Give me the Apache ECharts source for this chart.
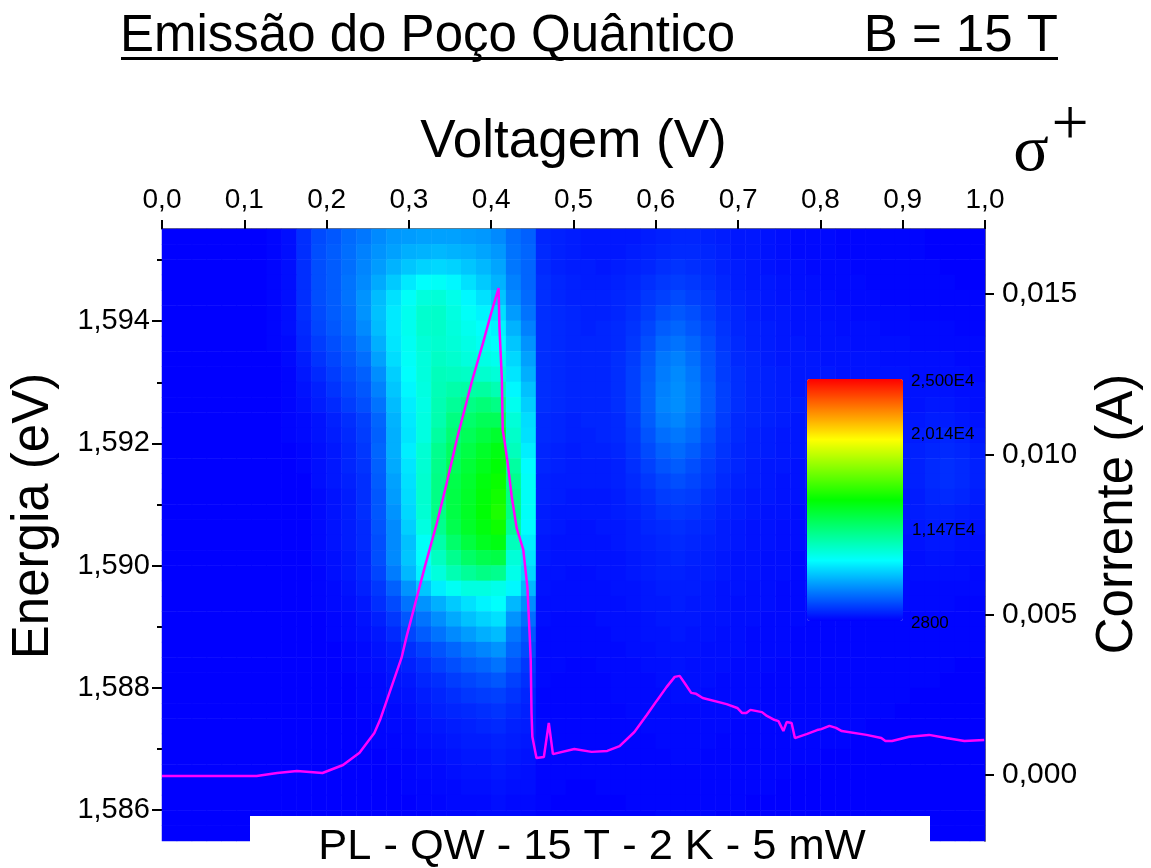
<!DOCTYPE html>
<html><head><meta charset="utf-8">
<style>html,body{margin:0;padding:0;background:#fff}#c{width:1151px;height:868px}</style>
<script src="https://cdn.jsdelivr.net/npm/echarts@6/dist/echarts.min.js"></script>
</head><body><div id="c"></div>
<script>
// Photoluminescence intensity, in hundreds of counts. Rows: high energy to low; columns: 0 V to 1 V.
const intensityRows = [
[28,28,28,28,28,28,28,29,31,38,44,47,51,54,58,61,62,63,63,63,62,61,58,52,49,36,35,34,33,33,33,33,34,35,36,36,35,34,33,33,32,31,30,30,30,29,29,29,29,29,29,28,28,28,28],
[28,28,28,28,28,28,28,29,31,38,45,48,52,56,60,63,66,67,68,67,66,64,61,53,50,37,35,34,33,33,33,34,35,36,37,37,36,35,33,33,32,31,30,30,30,29,29,29,29,29,29,28,28,28,28],
[28,28,28,28,28,28,28,29,31,38,45,48,52,57,62,67,71,74,75,74,71,68,64,54,50,37,35,34,34,33,34,35,36,38,39,38,37,35,34,33,32,31,31,30,30,30,29,29,29,29,29,29,28,28,28],
[28,28,28,28,28,28,28,29,31,38,45,48,53,58,65,72,79,84,85,82,77,72,67,56,50,38,36,35,34,34,35,36,38,40,41,40,38,36,34,33,33,32,31,31,30,30,30,29,29,29,29,29,29,28,28],
[28,28,28,28,28,28,28,29,31,38,45,48,53,60,69,77,85,91,92,88,82,77,71,58,51,38,36,35,35,35,36,37,40,42,44,42,40,37,35,34,33,32,32,31,31,30,30,30,29,29,29,29,29,29,29],
[28,28,28,28,28,28,28,29,31,38,44,48,52,60,70,79,87,94,95,90,85,81,77,62,53,38,37,36,35,35,36,38,41,45,47,45,41,38,36,34,33,33,32,32,31,31,30,30,30,30,29,29,29,29,29],
[28,28,28,28,28,28,28,29,31,37,43,47,51,58,69,79,87,94,95,91,87,84,81,67,56,38,37,36,35,36,37,39,43,48,50,47,43,39,36,35,34,33,32,32,32,31,31,31,30,30,30,30,30,29,29],
[28,28,28,28,28,28,28,29,30,36,41,45,49,55,66,78,86,92,94,92,89,86,84,71,60,38,37,36,36,36,37,40,45,51,53,50,45,40,37,35,34,33,33,32,32,32,31,31,31,31,30,30,30,30,30],
[28,28,28,28,28,28,28,28,30,34,39,43,47,52,63,76,85,91,96,94,91,89,87,75,63,38,37,36,36,36,38,41,47,54,56,52,46,41,37,36,34,33,33,33,32,32,32,32,31,31,31,31,31,30,30],
[28,28,28,28,28,28,28,28,29,33,37,41,45,49,59,73,84,91,98,97,96,94,92,78,66,38,37,36,36,36,38,42,48,55,58,54,47,41,38,36,35,34,33,33,33,32,32,32,32,32,31,31,31,31,30],
[28,28,28,28,28,28,28,28,29,32,35,39,43,47,56,71,82,90,99,102,103,104,100,82,70,38,37,36,36,36,38,42,49,56,59,55,48,42,38,36,35,34,33,33,33,33,32,32,32,32,32,32,32,31,31],
[28,28,28,28,28,28,28,28,29,31,34,37,41,45,53,69,80,89,100,106,110,113,110,87,73,38,37,36,36,36,38,42,49,57,59,55,48,42,38,36,35,34,34,33,33,33,33,33,33,32,32,33,33,32,31],
[28,28,28,28,28,28,28,28,29,30,32,35,38,42,50,67,79,90,101,111,116,120,120,92,76,37,36,35,36,36,37,41,48,55,57,53,47,41,37,36,35,34,33,33,33,33,33,33,33,33,33,34,34,33,32],
[28,28,28,28,28,28,28,28,29,30,32,34,37,41,49,66,78,90,104,114,120,125,129,95,77,37,36,35,35,36,37,40,46,52,54,51,45,40,37,35,34,33,33,33,33,33,33,33,33,33,34,35,36,35,33],
[28,28,28,28,28,28,28,28,28,29,31,33,36,40,50,66,80,93,108,118,124,130,135,98,80,36,35,34,35,35,36,39,44,49,51,48,43,39,36,35,34,33,33,33,32,32,32,33,33,34,35,36,37,36,34],
[28,28,28,28,28,28,28,28,28,29,31,33,36,39,49,65,78,93,109,120,127,133,138,104,83,36,35,34,34,34,35,38,42,46,48,45,41,38,36,34,33,33,32,32,32,32,32,33,33,34,35,37,38,37,35],
[28,28,28,28,28,28,28,28,28,28,31,33,35,38,48,63,77,94,110,123,129,136,141,108,85,35,34,34,34,34,35,37,40,43,45,43,40,37,35,34,33,32,32,32,32,32,32,32,33,34,35,37,38,37,35],
[28,28,28,28,28,28,28,28,28,28,30,32,34,38,47,62,76,94,110,124,130,137,143,110,85,35,34,33,33,33,34,36,38,41,42,41,38,36,34,33,33,32,32,31,31,31,31,32,32,33,34,36,37,36,34],
[28,28,28,28,28,28,28,28,28,28,30,32,34,38,47,60,75,93,110,124,131,138,145,110,85,34,33,33,33,33,34,35,37,39,40,39,37,35,34,33,32,32,31,31,31,31,31,31,32,33,34,35,35,34,33],
[28,28,28,28,28,28,28,28,28,28,30,32,34,37,46,58,73,90,108,122,130,136,142,106,83,34,33,32,32,33,33,34,36,37,38,37,36,34,33,32,32,31,31,31,31,31,31,31,31,32,33,34,34,33,32],
[28,28,28,28,28,28,28,28,28,28,30,32,34,37,45,58,70,85,102,116,125,132,135,98,80,33,32,32,32,32,33,34,35,36,37,36,35,34,33,32,32,31,31,30,30,30,30,30,31,31,32,33,33,32,31],
[28,28,28,28,28,28,28,28,28,28,30,31,33,36,45,58,71,84,97,108,117,122,124,92,78,33,32,32,32,32,32,33,34,35,36,35,34,33,32,32,31,31,30,30,30,30,30,30,30,31,31,32,32,31,31],
[28,28,28,28,28,28,28,28,28,28,29,31,33,36,43,55,68,81,91,100,106,110,108,88,75,32,32,31,31,32,32,33,34,35,35,34,34,33,32,32,31,31,30,30,30,30,30,30,30,30,31,31,31,31,30],
[28,28,28,28,28,28,28,28,28,28,29,30,32,35,40,49,60,71,80,86,90,90,88,82,68,32,31,31,31,31,32,32,33,34,34,34,33,32,32,31,31,30,30,30,30,29,29,30,30,30,30,30,30,30,30],
[28,28,28,28,28,28,28,28,28,28,29,30,31,33,38,44,53,60,66,72,77,81,84,68,59,31,31,31,31,31,31,32,33,33,34,33,33,32,31,31,31,30,30,30,29,29,29,29,29,30,30,30,30,29,29],
[28,28,28,28,28,28,28,28,28,28,28,29,30,32,35,40,47,53,59,65,70,74,77,60,52,31,30,30,30,31,31,31,32,33,33,33,32,32,31,31,30,30,30,29,29,29,29,29,29,29,29,29,29,29,29],
[28,28,28,28,28,28,28,28,28,28,28,29,30,31,33,37,43,48,53,58,62,66,69,54,47,30,30,30,30,30,31,31,32,32,33,32,32,31,31,30,30,30,29,29,29,29,29,29,29,29,29,29,29,29,29],
[28,28,28,28,28,28,28,28,28,28,28,28,29,30,32,34,38,42,46,50,54,57,60,50,44,30,30,30,30,30,30,31,31,32,32,32,31,31,31,30,30,30,29,29,29,29,29,29,29,29,29,29,29,29,29],
[28,28,28,28,28,28,28,28,28,28,28,28,29,30,31,33,35,38,42,45,48,50,53,46,40,30,30,29,29,30,30,30,31,31,32,31,31,31,30,30,30,29,29,29,29,29,29,29,29,29,29,29,29,28,28],
[28,28,28,28,28,28,28,28,28,28,28,28,28,29,30,32,33,36,38,41,43,45,47,42,38,30,29,29,29,29,30,30,30,31,31,31,31,30,30,30,29,29,29,29,29,29,29,29,29,29,29,29,28,28,28],
[28,28,28,28,28,28,28,28,28,28,28,28,28,29,30,31,32,34,36,38,40,41,42,39,36,29,29,29,29,29,30,30,30,30,31,31,30,30,30,30,29,29,29,29,29,29,29,29,29,29,28,28,28,28,28],
[28,28,28,28,28,28,28,28,28,28,28,28,28,29,29,30,31,33,35,36,37,38,39,37,35,29,29,29,29,29,29,30,30,30,30,30,30,30,30,29,29,29,29,29,29,29,29,29,29,28,28,28,28,28,28],
[28,28,28,28,28,28,28,28,28,28,28,28,28,28,29,30,30,32,33,34,35,36,37,35,34,29,29,29,29,29,29,29,30,30,30,30,30,30,29,29,29,29,29,29,29,29,29,28,28,28,28,28,28,28,28],
[28,28,28,28,28,28,28,28,28,28,28,28,28,28,29,29,30,31,32,33,34,34,35,34,33,29,29,29,29,29,29,29,29,30,30,30,30,29,29,29,29,29,29,29,29,29,28,28,28,28,28,28,28,28,28],
[28,28,28,28,28,28,28,28,28,28,28,28,28,28,28,29,29,30,31,32,33,33,34,33,32,29,29,29,29,29,29,29,29,29,30,30,29,29,29,29,29,29,29,29,28,28,28,28,28,28,28,28,28,28,28],
[28,28,28,28,28,28,28,28,28,28,28,28,28,28,28,28,29,30,30,31,32,32,33,32,31,29,29,29,29,29,29,29,29,29,29,29,29,29,29,29,29,29,28,28,28,28,28,28,28,28,28,28,28,28,28],
[28,28,28,28,28,28,28,28,28,28,28,28,28,28,28,28,29,29,30,30,31,31,32,31,31,29,29,28,28,29,29,29,29,29,29,29,29,29,29,29,29,28,28,28,28,28,28,28,28,28,28,28,28,28,28],
[28,28,28,28,28,28,28,28,28,28,28,28,28,28,28,28,28,29,29,30,30,30,31,30,30,29,28,28,28,28,28,29,29,29,29,29,29,29,29,28,28,28,28,28,28,28,28,28,28,28,28,28,28,28,28],
[28,28,28,28,28,28,28,28,28,28,28,28,28,28,28,28,28,28,29,29,29,30,30,30,29,28,28,28,28,28,28,28,28,29,29,29,29,28,28,28,28,28,28,28,28,28,28,28,28,28,28,28,28,28,28],
[28,28,28,28,28,28,28,28,28,28,28,28,28,28,28,28,28,28,28,28,29,29,29,29,29,28,28,28,28,28,28,28,28,28,28,28,28,28,28,28,28,28,28,28,28,28,28,28,28,28,28,28,28,28,28]
];
// Current trace
const voltage = [0,.115,.14,.164,.195,.22,.24,.258,.265,.291,.297,.319,.334,.346,.359,.377,.39,.4,.409,.41,.413,.414,.416,.42,.425,.431,.439,.444,.447,.448,.449,.45,.455,.464,.47,.475,.501,.522,.541,.556,.574,.589,.601,.613,.623,.629,.635,.643,.649,.657,.686,.699,.705,.71,.715,.729,.735,.744,.749,.755,.759,.765,.769,.784,.796,.801,.811,.819,.826,.856,.874,.879,.887,.908,.932,.953,.975,.999];
const current = [-.00003,-.00003,.00006,.00012,.00006,.00031,.00069,.00131,.00172,.00365,.0043,.00646,.00786,.00911,.01054,.01232,.01347,.01441,.01519,.01397,.01232,.01076,.01045,.00973,.00867,.0077,.00702,.00586,.00421,.00359,.00193,.00119,.00053,.00056,.00162,.00065,.00081,.00072,.00075,.0009,.00134,.00187,.00231,.00274,.00306,.00309,.00287,.00256,.00253,.0024,.00221,.00209,.00193,.00193,.00203,.00196,.00184,.00172,.00168,.00137,.00165,.00162,.00115,.00128,.0014,.00143,.00153,.00147,.00137,.00125,.00115,.00106,.00106,.00119,.00125,.00115,.00106,.00109];
const voltageTicks = [0,.1,.2,.3,.4,.5,.6,.7,.8,.9,1];
const voltageMinorTicks = [.05,.15,.25,.35,.45,.55,.65,.75,.85,.95];
const energyTicks = [1.586,1.588,1.59,1.592,1.594];
const energyMinorTicks = [1.587,1.589,1.591,1.593,1.595];
const currentTicks = [0,.005,.01,.015];
const currentMinorTicks = [.0025,.0075,.0125];
const scaleLabels = ['2,500E4','2,014E4','1,147E4','2800'];
const heatColors = ['#0000ff','#00ffff','#00ff00','#ffff00','#ff0000'];

const G = {left:161, top:229, width:825, height:612};
const FONT = '"Liberation Sans", Arial, sans-serif';
const comma = d => v => v.toFixed(d).replace('.', ',');
const cols = intensityRows[0].map((_, i) => i);
const rows = intensityRows.map((_, i) => i);
const cells = [];
intensityRows.forEach((r, y) => r.forEach((v, x) => cells.push([x, y, v * 100])));
const trace = voltage.map((v, i) => [v, current[i]]);
const tick = (len) => ({show:true, length:len, inside:false, lineStyle:{color:'#000', width:2}});
const hiddenLine = {show:false};

const chart = echarts.init(document.getElementById('c'), null, {renderer:'canvas'});
chart.setOption({
  animation:false,
  backgroundColor:'#fff',
  grid:{...G, containLabel:false},
  xAxis:[
    {type:'category', data:cols, show:false, gridIndex:0},
    {type:'value', position:'top', min:0, max:1, splitLine:{show:false},
     name:'Voltagem (V)', nameLocation:'middle', nameGap:60,
     nameTextStyle:{fontFamily:FONT, fontSize:53, color:'#000'},
     axisLine:{show:true, onZero:false, lineStyle:{color:'#777', width:2}},
     axisTick:{...tick(9), customValues:voltageTicks},
     axisLabel:{show:true, customValues:voltageTicks, formatter:comma(1), margin:15, fontFamily:FONT, fontSize:28, color:'#000'}},
    {type:'value', position:'top', min:0, max:1, splitLine:{show:false},
     axisLine:hiddenLine, axisLabel:{show:false},
     axisTick:{...tick(5), customValues:voltageMinorTicks}}
  ],
  yAxis:[
    {type:'category', data:rows, inverse:true, show:false, gridIndex:0},
    {type:'value', position:'right', min:-0.00206, max:0.01703, splitLine:{show:false},
     name:'Corrente (A)', nameLocation:'middle', nameRotate:90, nameGap:107,
     nameTextStyle:{fontFamily:FONT, fontSize:51, color:'#000', padding:[0,0,0,42]},
     axisLine:{show:true, onZero:false, lineStyle:{color:'#777', width:2}},
     axisTick:{...tick(9), customValues:currentTicks},
     axisLabel:{show:true, customValues:currentTicks, formatter:comma(3), margin:17, fontFamily:FONT, fontSize:30, color:'#000'}},
    {type:'value', position:'right', min:-0.00206, max:0.01703, splitLine:{show:false},
     axisLine:hiddenLine, axisLabel:{show:false},
     axisTick:{...tick(5), customValues:currentMinorTicks}},
    {type:'value', position:'left', min:1.58549, max:1.59551, splitLine:{show:false},
     name:'Energia (eV)', nameLocation:'middle', nameRotate:90, nameGap:103,
     nameTextStyle:{fontFamily:FONT, fontSize:51, color:'#000', padding:[0,0,0,38]},
     axisLine:hiddenLine,
     axisTick:{...tick(10), customValues:energyTicks},
     axisLabel:{show:true, customValues:energyTicks, formatter:comma(3), margin:12, fontFamily:FONT, fontSize:29, color:'#000'}},
    {type:'value', position:'left', min:1.58549, max:1.59551, splitLine:{show:false},
     axisLine:hiddenLine, axisLabel:{show:false},
     axisTick:{...tick(5), customValues:energyMinorTicks}}
  ],
  visualMap:{
    type:'continuous', seriesIndex:0, min:2800, max:25000, calculable:false,
    inRange:{color:heatColors}, text:null, showLabel:false,
    left:807, top:379, itemWidth:96, itemHeight:242, padding:0, textStyle:{fontSize:0}
  },
  series:[
    {type:'heatmap', xAxisIndex:0, yAxisIndex:0, data:cells, progressive:0,
     itemStyle:{borderWidth:0}, emphasis:{disabled:true}},
    {type:'line', xAxisIndex:1, yAxisIndex:1, data:trace, showSymbol:false, symbol:'none',
     lineStyle:{color:'#ff00ff', width:2.5}, itemStyle:{color:'#ff00ff'}, z:5}
  ],
  graphic:{elements:[
    {type:'rect', z:50, shape:{x:250, y:816, width:680, height:52}, style:{fill:'#fff'}},
    {type:'text', z:51, style:{x:592, y:847, text:'PL - QW - 15 T - 2 K - 5 mW', align:'center', verticalAlign:'middle', font:'43.4px '+FONT, fill:'#000'}},
    {type:'text', z:51, style:{x:120, y:37, text:'Emissão do Poço Quântico', align:'left', verticalAlign:'middle', font:'51px '+FONT, fill:'#000'}},
    {type:'text', z:51, style:{x:1058, y:37, text:'B = 15 T', align:'right', verticalAlign:'middle', font:'51px '+FONT, fill:'#000'}},
    {type:'rect', z:51, shape:{x:121, y:57, width:937, height:3}, style:{fill:'#000'}},
    {type:'text', z:51, style:{x:1031, y:153, text:'σ', align:'center', verticalAlign:'middle', font:'66px "Liberation Serif", serif', fill:'#000'}},
    {type:'text', z:51, style:{x:1070, y:127, text:'+', align:'center', verticalAlign:'middle', font:'66px "Liberation Serif", serif', fill:'#000'}},
    {type:'text', z:51, style:{x:911, y:381, text:scaleLabels[0], align:'left', verticalAlign:'middle', font:'17px '+FONT, fill:'#000'}},
    {type:'text', z:51, style:{x:911, y:434, text:scaleLabels[1], align:'left', verticalAlign:'middle', font:'17px '+FONT, fill:'#000'}},
    {type:'text', z:51, style:{x:912, y:530, text:scaleLabels[2], align:'left', verticalAlign:'middle', font:'17px '+FONT, fill:'#000'}},
    {type:'text', z:51, style:{x:911, y:623, text:scaleLabels[3], align:'left', verticalAlign:'middle', font:'17px '+FONT, fill:'#000'}}
  ]}
});
</script></body></html>
